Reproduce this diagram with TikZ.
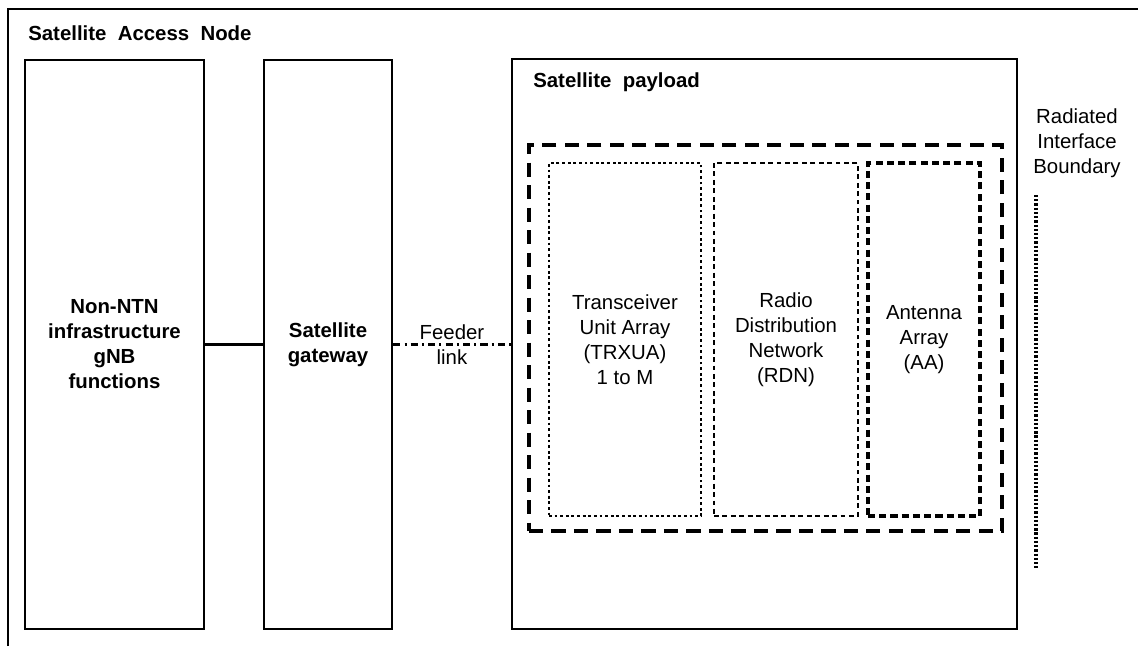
\documentclass[tikz,border=0pt]{standalone}
\usepackage{fontspec}
\setmainfont{Liberation Sans}
\usepackage{tikz}
\usetikzlibrary{positioning,calc}

\begin{document}
\begin{tikzpicture}[
                x=0.025cm,y=-0.025cm,
                every node/.style={font=\fontsize{14.5}{17.8}\selectfont,align=center},
                unitbox/.style={draw,line width=1.8pt,minimum height=14.225cm,inner sep=0pt},
                payloadbox/.style={draw,line width=1.8pt,minimum width=12.625cm,minimum height=14.25cm,inner sep=0pt},
                aasbox/.style={draw,line width=2.8pt,dash pattern=on 10pt off 6pt,
                               minimum width=11.825cm,minimum height=9.65cm,inner sep=0pt},
                subbox/.style={minimum height=8.825cm,inner sep=0pt},
                title/.style={font=\fontsize{14.5}{17.8}\selectfont\bfseries,anchor=west,inner sep=0pt},
                feeder/.style={line width=1.6pt,dash pattern=on 5pt off 3pt on 1.4pt off 3pt},
                boundary/.style={line width=2.4pt,dash pattern=on 1.6pt off 1.4pt}
            ]
                \useasboundingbox (0,0) rectangle (1138,646);
                % access node frame (cut by the page edges)
                \draw[line width=1.8pt] (8,646) -- (8,9) -- (1138,9);
                \node[title] (sanlabel) at (28,33) {Satellite\ \ Access\ \ Node};

                \node[unitbox,minimum width=4.475cm,font=\fontsize{14.5}{17.8}\selectfont\bfseries] (ntn) at (114.5,344.5)
                    {Non-NTN\\infrastructure\\gNB\\functions};
                \node[unitbox,minimum width=3.2cm,font=\fontsize{14.5}{17.8}\selectfont\bfseries] (gw) at (328,344.5)
                    {Satellite\\gateway};
                \node[payloadbox] (payload) at (764.5,344) {};
                \node[title] (pllabel) at (533,82) {Satellite\ \ payload};

                % antenna system
                \node[aasbox] (aas) at (765.5,338) {};
                \node[subbox,minimum width=3.8cm,draw,line width=1.5pt,dash pattern=on 2pt off 2pt] (trxua) at (625,339.5)
                    {Transceiver\\Unit Array\\(TRXUA)\\1 to M};
                \node[subbox,minimum width=3.6cm,draw,line width=2pt,dash pattern=on 3.5pt off 2.5pt] (rdn) at (786,339.5)
                    {Radio\\Distribution\\Network\\(RDN)};
                \node[subbox,minimum width=2.8cm,draw,line width=2.3pt,dash pattern=on 5pt off 3pt] (aa) at (924,339.5)
                    {Antenna\\Array\\(AA)};

                % links
                \draw[line width=1.8pt] (ntn) -- (gw);
                \draw[feeder] (gw.east) -- (gw.east -| payload.west)
                    node[midway] (feederlabel) {Feeder\\link};

                % radiated interface boundary
                \node (riblabel) at (1077,143) {Radiated\\Interface\\Boundary};
                \coordinate (ribtop) at (1036,195);
                \coordinate (ribbot) at (1036,570);
                \draw[boundary] (ribtop) -- (ribbot);
            \end{tikzpicture}
\end{document}
